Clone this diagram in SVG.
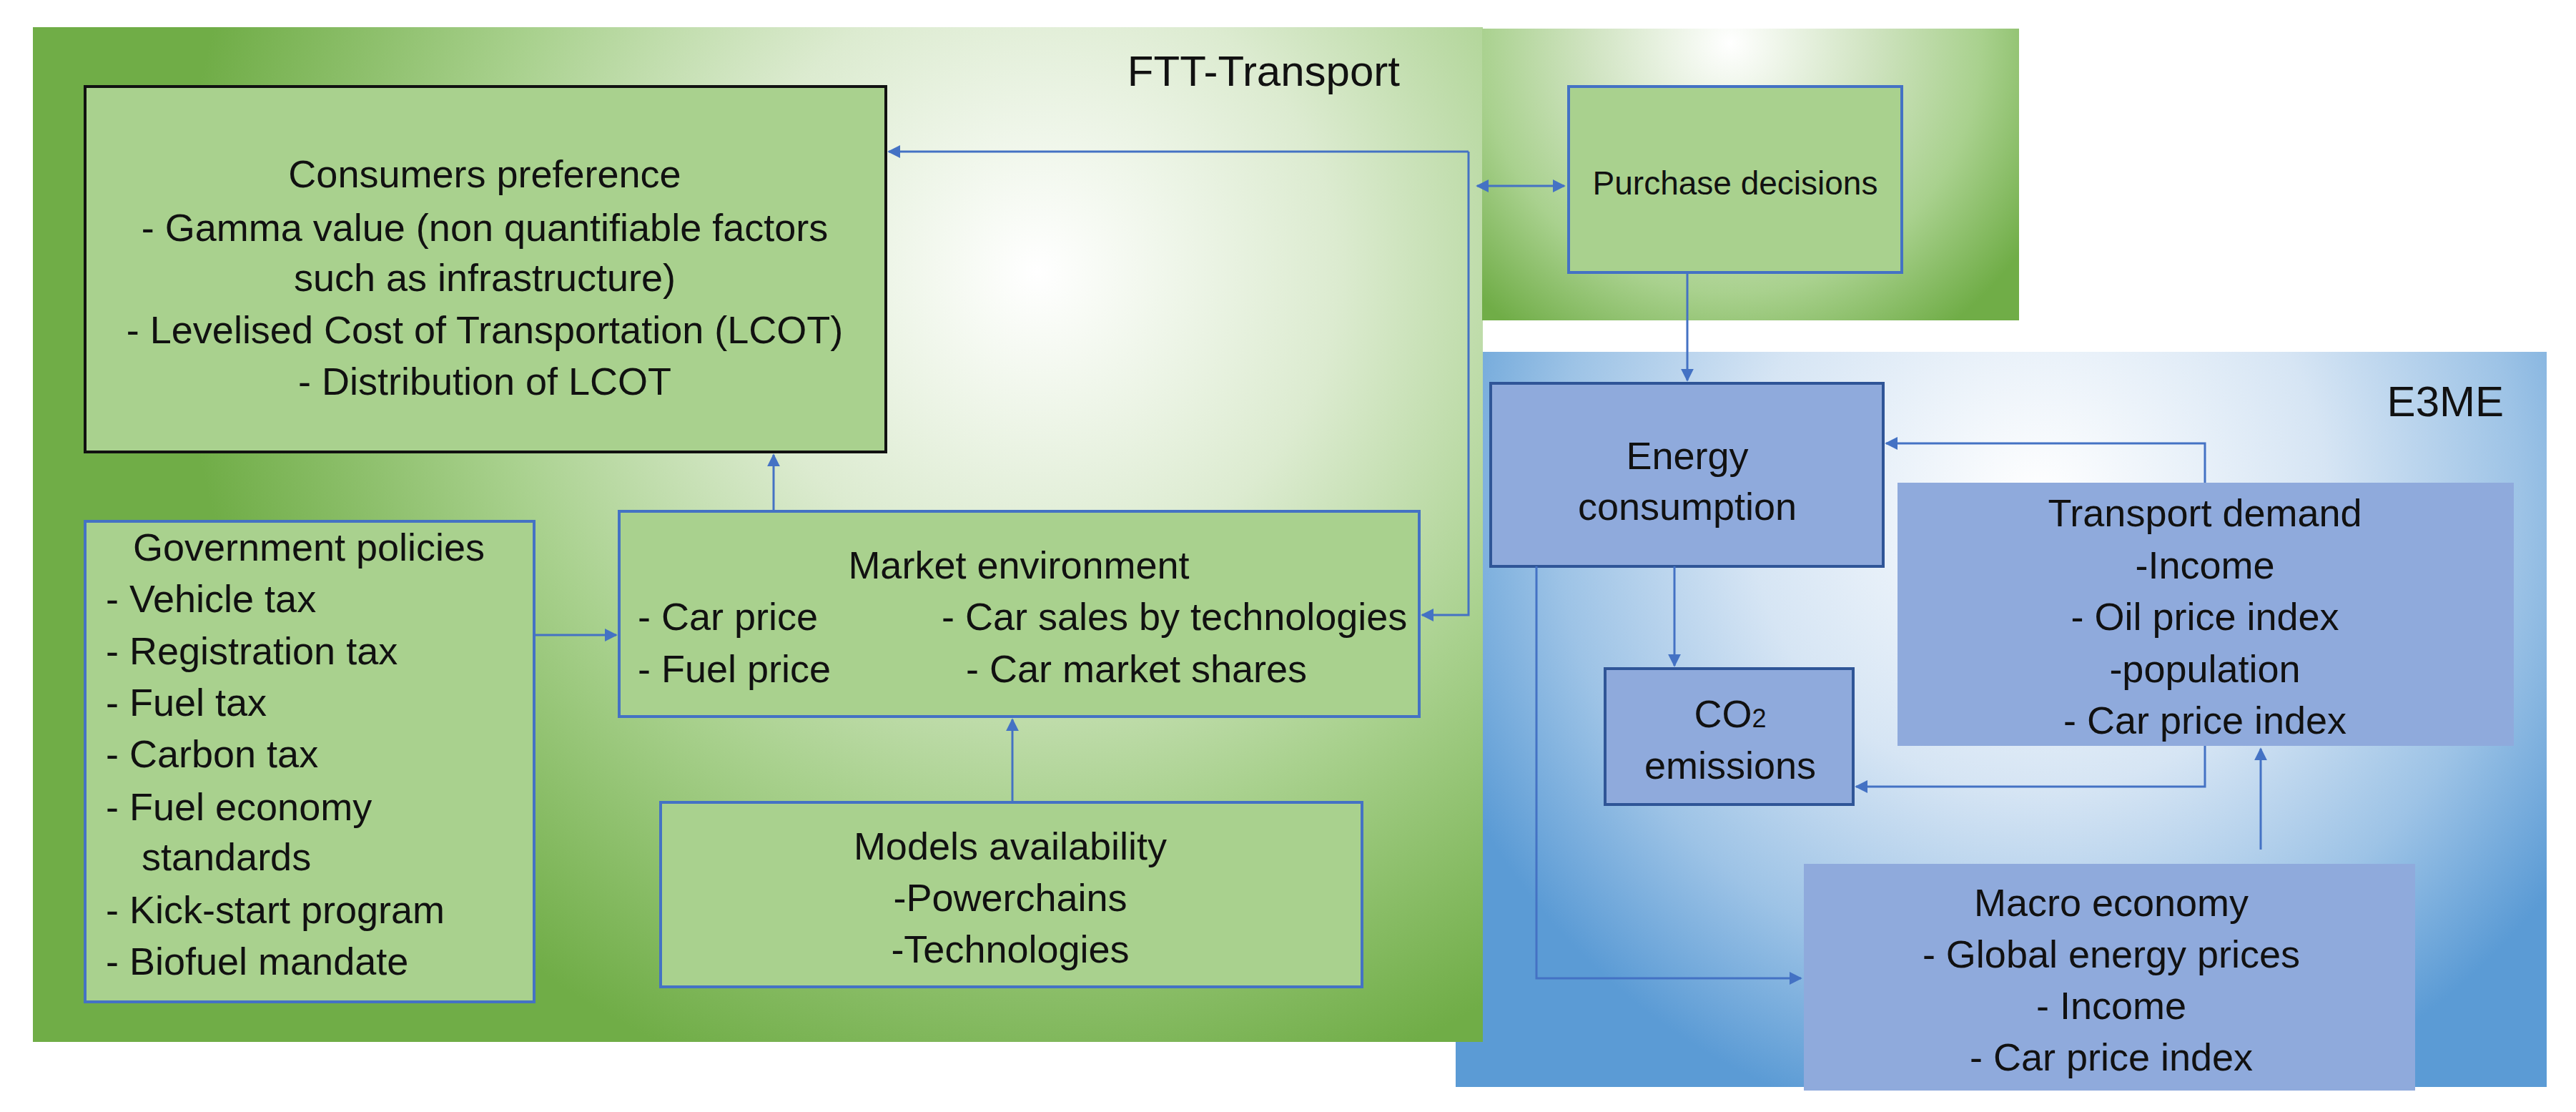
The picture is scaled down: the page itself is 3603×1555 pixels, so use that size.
<svg xmlns="http://www.w3.org/2000/svg" width="3603" height="1555" viewBox="0 0 3603 1555">
<defs>
<radialGradient id="gG" gradientUnits="userSpaceOnUse" cx="1450" cy="380" r="1200">
<stop offset="0" stop-color="#ffffff"/><stop offset="0.35" stop-color="#dcebd0"/><stop offset="0.65" stop-color="#a9d18e"/><stop offset="1" stop-color="#70ad47"/></radialGradient>
<radialGradient id="gP" gradientUnits="userSpaceOnUse" cx="2420" cy="60" r="500">
<stop offset="0" stop-color="#ffffff"/><stop offset="0.4" stop-color="#cfe3c0"/><stop offset="0.7" stop-color="#a9d18e"/><stop offset="1" stop-color="#70ad47"/></radialGradient>
<radialGradient id="gB" gradientUnits="userSpaceOnUse" cx="2850" cy="700" r="900">
<stop offset="0" stop-color="#ffffff"/><stop offset="0.45" stop-color="#d6e5f4"/><stop offset="0.75" stop-color="#9dc3e6"/><stop offset="1" stop-color="#5b9bd5"/></radialGradient>
<marker id="ar" viewBox="0 0 10 10" refX="9" refY="5" markerWidth="6" markerHeight="6" orient="auto-start-reverse" markerUnits="strokeWidth"><path d="M0 0 L10 5 L0 10 z" fill="#4472c4"/></marker>
</defs>
<style>
text{font-family:"Liberation Sans",Arial,sans-serif;font-size:54px;fill:#111}
.c{text-anchor:middle}
.g{fill:#a9d18e;stroke:#4472c4;stroke-width:4}
.b{fill:#8faadc;stroke:#2f5597;stroke-width:4}
.bn{fill:#8faadc}
.ln{fill:none;stroke:#4472c4;stroke-width:3;marker-end:url(#ar)}
</style>
<rect x="2036" y="492" width="1526" height="1028" fill="url(#gB)"/>
<rect x="46" y="38" width="2028" height="1419" fill="url(#gG)"/>
<rect x="2073" y="40" width="751" height="408" fill="url(#gP)"/>
<text x="1958" y="120" style="font-size:60px;text-anchor:end">FTT-Transport</text>
<text x="3502" y="582" style="font-size:60px;text-anchor:end">E3ME</text>

<g id="consumers">
<rect x="119" y="121" width="1120" height="511" fill="#a9d18e" stroke="#111" stroke-width="4"/>
<text class="c" x="678" y="262">Consumers preference</text>
<text class="c" x="678" y="337">- Gamma value (non quantifiable factors</text>
<text class="c" x="678" y="407">such as infrastructure)</text>
<text class="c" x="678" y="480">-  Levelised Cost of Transportation (LCOT)</text>
<text class="c" x="678" y="552">-  Distribution of LCOT</text>
</g>
<g id="government">
<rect class="g" x="119" y="729" width="628" height="672"/>
<text class="c" x="432" y="784">Government policies</text>
<text x="148" y="856">-  Vehicle tax</text>
<text x="148" y="929">-  Registration tax</text>
<text x="148" y="1001">-  Fuel tax</text>
<text x="148" y="1073">-  Carbon tax</text>
<text x="148" y="1147">-  Fuel economy</text>
<text x="198" y="1217">standards</text>
<text x="148" y="1291">-  Kick-start program</text>
<text x="148" y="1363">-  Biofuel mandate</text>
</g>
<g id="market">
<rect class="g" x="866" y="715" width="1119" height="287"/>
<text class="c" x="1425" y="809">Market environment</text>
<text x="892" y="881">- Car price</text>
<text x="892" y="954">- Fuel price</text>
<text x="1317" y="881">- Car sales by technologies</text>
<text x="1351" y="954">-  Car market shares</text>
</g>
<g id="models">
<rect class="g" x="924" y="1122" width="981" height="258"/>
<text class="c" x="1413" y="1202">Models availability</text>
<text class="c" x="1413" y="1274">-Powerchains</text>
<text class="c" x="1413" y="1346">-Technologies</text>
</g>
<g id="purchase">
<rect class="g" x="2194" y="121" width="466" height="260"/>
<text class="c" x="2427" y="272" style="font-size:46px">Purchase decisions</text>
</g>
<g id="energy">
<rect class="b" x="2085" y="536" width="549" height="256"/>
<text class="c" x="2360" y="656">Energy</text>
<text class="c" x="2360" y="727">consumption</text>
</g>
<g id="transport">
<rect class="bn" x="2654" y="675" width="862" height="368"/>
<text class="c" x="3084" y="736">Transport demand</text>
<text class="c" x="3084" y="809">-Income</text>
<text class="c" x="3084" y="881">- Oil price index</text>
<text class="c" x="3084" y="954">-population</text>
<text class="c" x="3084" y="1026">- Car price index</text>
</g>
<g id="co2">
<rect class="b" x="2245" y="935" width="347" height="190"/>
<text class="c" x="2420" y="1017">CO<tspan style="font-size:36px">2</tspan></text>
<text class="c" x="2420" y="1089">emissions</text>
</g>
<g id="macro">
<rect class="bn" x="2523" y="1208" width="855" height="317"/>
<text class="c" x="2953" y="1281">Macro economy</text>
<text class="c" x="2953" y="1353">-  Global energy prices</text>
<text class="c" x="2953" y="1425">-  Income</text>
<text class="c" x="2953" y="1497">-  Car price index</text>
</g>
<g id="connectors">
<path class="ln" d="M2054 212 H1243"/>
<path class="ln" d="M2054 212 V860 H1989"/>
<path class="ln" d="M2066 260 H2188" style="marker-start:url(#ar)"/>
<path class="ln" d="M2360 381 V532"/>
<path class="ln" d="M1082 715 V636"/>
<path class="ln" d="M747 888 H862"/>
<path class="ln" d="M1416 1122 V1006"/>
<path class="ln" d="M3084 675 V620 H2638"/>
<path class="ln" d="M2342 792 V931"/>
<path class="ln" d="M3084 1043 V1100 H2596"/>
<path class="ln" d="M3162 1188 V1047"/>
<path class="ln" d="M2149 792 V1368 H2519"/>
</g>
</svg>
